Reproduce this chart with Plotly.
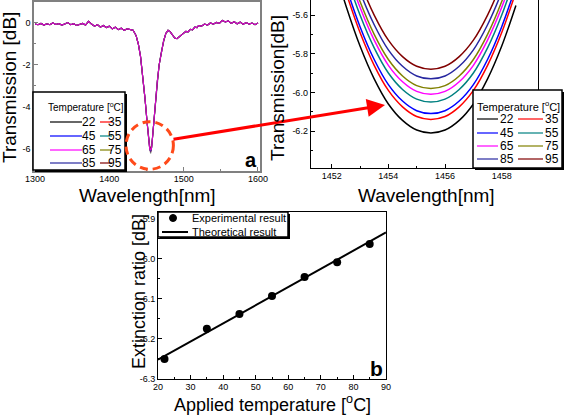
import plotly.graph_objects as go

W, H = 565, 415


def px(x):
    return x / W


def py(y):
    return 1 - y / H


# ---------------- data ----------------
TEMPS = ["22", "35", "45", "55", "65", "75", "85", "95"]
COLORS = ["#000000", "#ff0000", "#0000ff", "#008080", "#ff00ff", "#808000", "#2828a0", "#800000"]

# panel a: full transmission spectrum (shared by all temperatures, they overlap)
WL_A = [1300, 1304, 1308, 1312, 1316, 1320, 1324, 1328, 1332, 1336, 1340, 1344, 1348, 1352,
        1356, 1360, 1364, 1368, 1372, 1376, 1380, 1384, 1388, 1392, 1396, 1400, 1404, 1408,
        1412, 1416, 1420, 1424, 1428, 1432, 1436, 1439, 1442, 1445, 1448, 1451, 1453, 1454.5,
        1455.5, 1456.5, 1458, 1460, 1462, 1464.5, 1467, 1470, 1473, 1476, 1479, 1482, 1485,
        1488, 1491, 1494, 1497, 1500, 1503, 1506, 1509, 1512, 1515, 1518, 1520, 1524, 1528,
        1532, 1536, 1540, 1544, 1548, 1552, 1556, 1560, 1564, 1568, 1572, 1576, 1580, 1584,
        1588, 1592, 1596, 1600]
TR_A = [-0.05, -0.08, -0.02, -0.10, -0.04, -0.08, 0.00, -0.07, -0.03, -0.10, -0.05, 0.02, -0.08,
        -0.03, -0.12, -0.06, -0.02, -0.10, 0.08, -0.05, -0.15, -0.08, -0.20, -0.12, -0.22, -0.15,
        -0.28, -0.20, -0.32, -0.25, -0.35, -0.28, -0.33, -0.35, -0.60, -1.00, -1.60, -2.50, -3.60,
        -4.80, -5.60, -6.05, -6.20, -6.05, -5.50, -4.60, -3.70, -2.80, -2.00, -1.35, -0.85, -0.50,
        -0.35, -0.42, -0.58, -0.72, -0.75, -0.66, -0.55, -0.50, -0.40, -0.42, -0.30, -0.33, -0.20,
        -0.22, -0.12, -0.15, -0.05, -0.10, 0.00, -0.06, 0.03, -0.02, 0.12, 0.05, 0.10, -0.02, 0.06,
        -0.04, 0.04, -0.06, 0.02, -0.05, 0.00, -0.08, 0.00]

# inset: zoom around the dip for each temperature
WL_IN = [1452.0, 1452.5, 1453.0, 1453.5, 1454.0, 1454.5, 1455.0, 1455.5, 1456.0, 1456.5,
         1457.0, 1457.5, 1458.0, 1458.5]
TR_22 = [-5.31, -5.55, -5.76, -5.93, -6.06, -6.145, -6.195, -6.21, -6.195, -6.145, -6.06, -5.93, -5.76, -5.55]
TR_35 = [-5.24, -5.48, -5.69, -5.86, -5.99, -6.075, -6.125, -6.14, -6.125, -6.075, -5.99, -5.86, -5.69, -5.48]
TR_45 = [-5.21, -5.45, -5.66, -5.83, -5.96, -6.045, -6.095, -6.11, -6.095, -6.045, -5.96, -5.83, -5.66, -5.45]
TR_55 = [-5.15, -5.39, -5.60, -5.77, -5.90, -5.985, -6.035, -6.05, -6.035, -5.985, -5.90, -5.77, -5.60, -5.39]
TR_65 = [-5.11, -5.35, -5.56, -5.73, -5.86, -5.945, -5.995, -6.01, -5.995, -5.945, -5.86, -5.73, -5.56, -5.35]
TR_75 = [-5.08, -5.32, -5.53, -5.70, -5.83, -5.915, -5.965, -5.98, -5.965, -5.915, -5.83, -5.70, -5.53, -5.32]
TR_85 = [-5.03, -5.27, -5.48, -5.65, -5.78, -5.865, -5.915, -5.93, -5.915, -5.865, -5.78, -5.65, -5.48, -5.27]
TR_95 = [-4.98, -5.22, -5.43, -5.60, -5.73, -5.815, -5.865, -5.88, -5.865, -5.815, -5.73, -5.60, -5.43, -5.22]
INSET_CURVES = [TR_22, TR_35, TR_45, TR_55, TR_65, TR_75, TR_85, TR_95]

# panel b: extinction ratio vs temperature
TEMP_EXP = [22, 35, 45, 55, 65, 75, 85]
ER_EXP = [-6.25, -6.175, -6.138, -6.093, -6.046, -6.009, -5.964]
TEMP_TH = [20, 90]
ER_TH = [-6.252, -5.935]

# tick labels
A_XTICKS = [1300, 1400, 1500, 1600]
A_XLABELS = ["1300", "1400", "1500", "1600"]
A_YTICKS = [-6, -4, -2, 0]
A_YLABELS = ["-6", "-4", "-2", "0"]
IN_XTICKS = [1452, 1454, 1456, 1458]
IN_XLABELS = ["1452", "1454", "1456", "1458"]
IN_YTICKS = [-6.2, -6.0, -5.8, -5.6]
IN_YLABELS = ["-6.2", "-6.0", "-5.8", "-5.6"]
B_XTICKS = [20, 30, 40, 50, 60, 70, 80, 90]
B_XLABELS = ["20", "30", "40", "50", "60", "70", "80", "90"]
B_YTICKS = [-6.3, -6.2, -6.1, -6.0, -5.9]
B_YLABELS = ["-6.3", "-6.2", "-6.1", "-6.0", "-5.9"]

# ---------------- figure ----------------
fig = go.Figure()

# panel a curves (all overlap; semi-transparent so their colours blend as in the original)
i_min = WL_A.index(1455.5)
draw_order = [0, 1, 2, 3, 5, 6, 7, 4]
for k in draw_order:
    y = list(TR_A)
    y[i_min] = min(INSET_CURVES[k])
    fig.add_trace(go.Scatter(x=WL_A, y=y, mode="lines", xaxis="x", yaxis="y",
                             opacity=0.75 if k == 4 else 0.55,
                             line=dict(color=COLORS[k], width=1.1), showlegend=False,
                             name=TEMPS[k]))

# inset curves
for k in range(len(TEMPS)):
    fig.add_trace(go.Scatter(x=WL_IN, y=INSET_CURVES[k], mode="lines", xaxis="x2", yaxis="y2",
                             line=dict(color=COLORS[k], width=1.5, shape="spline"),
                             showlegend=False, name=TEMPS[k]))

# panel b
fig.add_trace(go.Scatter(x=TEMP_TH, y=ER_TH, mode="lines", xaxis="x3", yaxis="y3",
                         line=dict(color="black", width=2), showlegend=False,
                         name="Theoretical result"))
fig.add_trace(go.Scatter(x=TEMP_EXP, y=ER_EXP, mode="markers", xaxis="x3", yaxis="y3",
                         marker=dict(color="black", size=8), showlegend=False,
                         name="Experimental result"))

TICKFONT = dict(family="Arial", size=9, color="black")


def axis(domain, rng, tickvals, ticktext, minor_vals, anchor, color="black", lw=1, mirror=True,
         standoff=0):
    return dict(domain=domain, range=rng, tickmode="array", tickvals=tickvals, ticktext=ticktext,
                ticks="inside", ticklen=4, tickcolor=color, tickwidth=1, automargin=False,
                ticklabelstandoff=standoff,
                minor=dict(tickmode="array", tickvals=minor_vals, ticks="inside", ticklen=2,
                           tickcolor=color),
                showline=True, linecolor=color, linewidth=lw, mirror=mirror,
                showgrid=False, zeroline=False, tickfont=TICKFONT, anchor=anchor)


layout = dict(
    width=W, height=H, margin=dict(l=0, r=0, t=0, b=0, autoexpand=False),
    paper_bgcolor="white", plot_bgcolor="white", showlegend=False,
    font=dict(family="Arial", color="black"),
    xaxis=axis([px(34), px(260)], [1298.65, 1602.7], A_XTICKS, A_XLABELS,
               [1350, 1450, 1550], "y", color="#808080", lw=1.5, standoff=-2),
    yaxis=axis([py(171), py(2)], [-7.05, 1.0], A_YTICKS, A_YLABELS,
               [-7, -5, -3, -1], "x", color="#808080", lw=1.5),
    xaxis2=axis([px(310.7), px(538.3)], [1451.26, 1459.29], IN_XTICKS, IN_XLABELS,
                [1453, 1455, 1457, 1459], "y2", mirror=False, standoff=-1),
    yaxis2=axis([py(168.3), 1.0], [-6.393, -5.522], IN_YTICKS, IN_YLABELS,
                [-6.3, -6.1, -5.9, -5.7], "x2"),
    xaxis3=axis([px(158), px(386)], [20, 90], B_XTICKS, B_XLABELS,
                [25, 35, 45, 55, 65, 75, 85], "y3", standoff=-1),
    yaxis3=axis([py(379), py(212)], [-6.3, -5.884], B_YTICKS, B_YLABELS,
                [-6.25, -6.15, -6.05, -5.95], "x3"),
)
fig.update_layout(**layout)

shapes = []
annotations = []


def rect(x0, y0, x1, y1, shadow=2):
    if shadow:
        shapes.append(dict(type="rect", xref="paper", yref="paper", x0=px(x0 + shadow), x1=px(x1 + shadow),
                           y0=py(y1 + shadow), y1=py(y0 + shadow), fillcolor="black",
                           line=dict(width=0)))
    shapes.append(dict(type="rect", xref="paper", yref="paper", x0=px(x0), x1=px(x1),
                       y0=py(y1), y1=py(y0), fillcolor="white",
                       line=dict(color="black", width=1.5)))


def hline(x0, x1, y, color, width=1.2):
    shapes.append(dict(type="line", xref="paper", yref="paper", x0=px(x0), x1=px(x1),
                       y0=py(y), y1=py(y), line=dict(color=color, width=width)))


def text(x, y, s, size, anchor="center", angle=0, bold=False):
    annotations.append(dict(xref="paper", yref="paper", x=px(x), y=py(y), text=("<b>%s</b>" % s) if bold else s,
                            showarrow=False, xanchor=anchor, yanchor="middle", textangle=angle,
                            font=dict(family="Arial", size=size, color="black")))


def temp_legend(box, title_xy, rows_y, c1, l1, c2, l2, tsize, lsize):
    rect(*box)
    text(title_xy[0], title_xy[1], "Temperature [<sup>o</sup>C]", tsize)
    for r, yy in enumerate(rows_y):
        k1, k2 = 2 * r, 2 * r + 1
        hline(c1[0], c1[1], yy, COLORS[k1])
        text(l1, yy, TEMPS[k1], lsize, anchor="right")
        hline(c2[0], c2[1], yy, COLORS[k2])
        text(l2, yy, TEMPS[k2], lsize, anchor="right")


# panel a legend
temp_legend((33, 92, 125, 170), (86, 107), [122, 136, 150, 163], (50, 82), 98, (100, 112), 124, 10, 12)
# inset legend
temp_legend((473, 90, 562, 168), (518, 106), [119, 133, 146, 159], (477, 498), 516, (518, 543), 561, 11, 12)

# panel b legend
rect(158, 212, 288, 237)
shapes.append(dict(type="circle", xref="paper", yref="paper", x0=px(169.5), x1=px(176.5),
                   y0=py(221.5), y1=py(214.5), fillcolor="black", line=dict(color="black", width=1)))
text(190, 218, "Experimental result", 11, anchor="left")
hline(162, 188, 232, "black", 2)
text(190, 232, "Theoretical result", 11, anchor="left")

# red dashed circle + arrow
shapes.append(dict(type="circle", xref="paper", yref="paper", x0=px(126), x1=px(173.4),
                   y0=py(169.3), y1=py(121.7), line=dict(color="#ff4a1a", width=3, dash="8px,5px")))
annotations.append(dict(xref="paper", yref="paper", x=px(385), y=py(105), axref="pixel", ayref="pixel",
                        ax=172 - 385, ay=139.5 - 105, text="", showarrow=True, arrowhead=2, arrowsize=1.2,
                        arrowwidth=3, arrowcolor="#ff0000", standoff=0, startstandoff=0))

# axis titles
text(9, 88, "Transmission [dB]", 19, angle=-90)
text(147, 195, "Wavelength[nm]", 19)
text(277, 88, "Transmission[dB]", 19, angle=-90)
text(426, 195, "Wavelength[nm]", 19)
text(139, 292, "Extinction ratio [dB]", 18, angle=-90)
text(272, 403, "Applied temperature [<sup>o</sup>C]", 18)

# panel letters
text(251, 160, "a", 20, bold=True)
text(377, 368, "b", 21, bold=True)

fig.update_layout(shapes=shapes, annotations=annotations)
fig.write_html("out.html", config={"displayModeBar": False},
               post_script="document.body.style.margin='0px';document.body.style.overflow='hidden';")
